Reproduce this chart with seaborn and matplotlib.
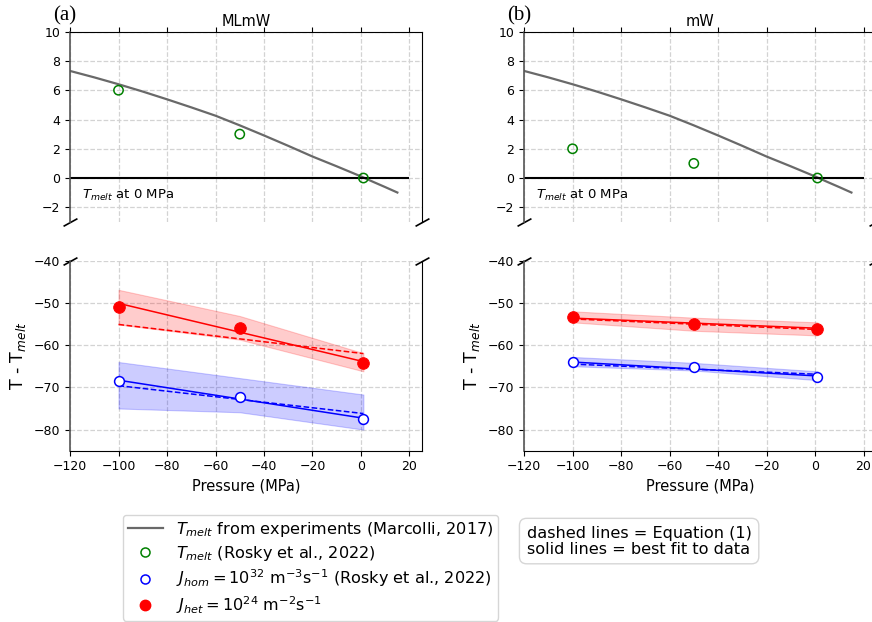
"""Broken-axis comparison of T_melt and nucleation temperatures, MLmW vs mW."""
import matplotlib.pyplot as plt
from matplotlib.lines import Line2D
import seaborn as sns

# pressure of the simulation points (MPa) and the ends of the fit lines
pressure = [-100, -50, 1]
fit_ends = [-100, 1]

# Marcolli (2017) experimental melting curve, relative to 0 MPa
marcolli_p = [-120, -110, -100, -90, -80, -70, -60, -50, -40, -30, -20, -10, 0, 5, 10, 15]
marcolli_t = [7.32, 6.88, 6.41, 5.91, 5.38, 4.83, 4.26, 3.6, 2.91, 2.2, 1.47, 0.8, 0.11, -0.26, -0.62, -0.99]

# MLmW
mlmw_tmelt = [6, 3, 0]
mlmw_hom = [-68.6, -72.3, -77.5]
mlmw_hom_lo = [-75.0, -75.9, -80.0]
mlmw_hom_hi = [-64.0, -67.8, -71.7]
mlmw_hom_fit = [-68.3, -77.3]
mlmw_hom_eq = [-69.6, -76.2]
mlmw_het = [-51.0, -56.0, -64.2]
mlmw_het_lo = [-55.1, -58.7, -66.2]
mlmw_het_hi = [-46.9, -53.1, -61.9]
mlmw_het_fit = [-50.1, -63.9]
mlmw_het_eq = [-55.1, -62.0]

# mW
mw_tmelt = [2, 1, 0]
mw_hom = [-63.9, -65.2, -67.5]
mw_hom_lo = [-65.0, -66.0, -68.3]
mw_hom_hi = [-62.8, -64.2, -66.2]
mw_hom_fit = [-64.0, -67.3]
mw_hom_eq = [-64.5, -66.9]
mw_het = [-53.4, -55.0, -56.2]
mw_het_lo = [-54.6, -56.6, -57.7]
mw_het_hi = [-52.0, -53.5, -54.6]
mw_het_fit = [-53.6, -56.0]
mw_het_eq = [-53.8, -56.3]

xticks = [-120, -100, -80, -60, -40, -20, 0, 20]

panels = [
    dict(x0=0.0803, title='MLmW', tag='(a)', tag_x=0.061, tmelt=mlmw_tmelt,
         hom=mlmw_hom, hom_lo=mlmw_hom_lo, hom_hi=mlmw_hom_hi, hom_fit=mlmw_hom_fit, hom_eq=mlmw_hom_eq,
         het=mlmw_het, het_lo=mlmw_het_lo, het_hi=mlmw_het_hi, het_fit=mlmw_het_fit, het_eq=mlmw_het_eq),
    dict(x0=0.601, title='mW', tag='(b)', tag_x=0.582, tmelt=mw_tmelt,
         hom=mw_hom, hom_lo=mw_hom_lo, hom_hi=mw_hom_hi, hom_fit=mw_hom_fit, hom_eq=mw_hom_eq,
         het=mw_het, het_lo=mw_het_lo, het_hi=mw_het_hi, het_fit=mw_het_fit, het_eq=mw_het_eq),
]

fig = plt.figure(figsize=(8.72, 6.22), dpi=100)
W = 0.4032
grid_kw = dict(ls='--', color='#d3d3d3', lw=0.9)

for p in panels:
    ax_t = fig.add_axes([p['x0'], 0.6432, W, 0.3058])
    ax_b = fig.add_axes([p['x0'], 0.2754, W, 0.3055])

    # --- top: melting temperature ---
    sns.lineplot(x=marcolli_p, y=marcolli_t, color='dimgray', lw=1.6, ax=ax_t)
    ax_t.hlines(0, xticks[0], xticks[-1], color='k', lw=1.5)
    sns.scatterplot(x=pressure, y=p['tmelt'], marker='o', s=45, facecolor='none',
                    edgecolor='green', linewidth=1.1, ax=ax_t, zorder=3)
    ax_t.text(-115, -1.2, r'$T_{melt}$ at 0 MPa', va='center', fontsize=9.5)
    ax_t.set_ylim(-3, 10)
    ax_t.set_yticks(range(-2, 11, 2))
    ax_t.set_title(p['title'], fontsize=10.5, pad=4)

    # --- bottom: nucleation temperatures ---
    for key, col in [('het', 'red'), ('hom', 'blue')]:
        ax_b.fill_between(pressure, p[key + '_lo'], p[key + '_hi'], color=col, alpha=0.2, lw=0.8)
        sns.lineplot(x=fit_ends, y=p[key + '_eq'], color=col, ls='--', lw=1.1, ax=ax_b)
        sns.lineplot(x=fit_ends, y=p[key + '_fit'], color=col, lw=1.1, ax=ax_b)
    sns.scatterplot(x=pressure, y=p['het'], marker='o', s=70, color='red',
                    edgecolor='red', ax=ax_b, zorder=3)
    sns.scatterplot(x=pressure, y=p['hom'], marker='o', s=50, facecolor='white',
                    edgecolor='blue', linewidth=1.1, ax=ax_b, zorder=3)
    ax_b.set_ylim(-85, -40)
    ax_b.set_yticks(range(-80, -39, 10))
    ax_b.set_xlabel('Pressure (MPa)', fontsize=10.5)
    ax_b.set_ylabel(r'T - T$_{melt}$', fontsize=12.5)

    for ax in (ax_t, ax_b):
        ax.set_xlim(-120, 25)
        ax.set_xticks(xticks)
        ax.tick_params(labelsize=9)
        ax.grid(True, **grid_kw)
        ax.set_axisbelow(True)
        ax.spines['left'].set_color('#555555')
        ax.spines['left'].set_linewidth(1.2)

    # broken axis
    ax_t.spines['bottom'].set_visible(False)
    ax_b.spines['top'].set_visible(False)
    ax_t.xaxis.tick_top()
    ax_t.tick_params(labeltop=False)
    ax_b.xaxis.tick_bottom()
    d = 0.55
    kw = dict(marker=[(-1, -d), (1, d)], markersize=10, linestyle='none',
              color='k', mec='k', mew=1.2, clip_on=False)
    ax_t.plot([0, 1], [0, 0], transform=ax_t.transAxes, **kw)
    ax_b.plot([0, 1], [1, 1], transform=ax_b.transAxes, **kw)

    fig.text(p['tag_x'], 0.975, p['tag'], family='Liberation Serif', fontsize=15, va='center')

handles = [
    Line2D([], [], color='dimgray', lw=1.6),
    Line2D([], [], ls='none', marker='o', mfc='none', mec='green', ms=6.5, mew=1.1),
    Line2D([], [], ls='none', marker='o', mfc='none', mec='blue', ms=6.5, mew=1.1),
    Line2D([], [], ls='none', marker='o', color='red', ms=7.5),
]
labels = [
    r'$T_{melt}$ from experiments (Marcolli, 2017)',
    r'$T_{melt}$ (Rosky et al., 2022)',
    r'$J_{hom} = 10^{32}$ m$^{-3}$s$^{-1}$ (Rosky et al., 2022)',
    r'$J_{het} = 10^{24}$ m$^{-2}$s$^{-1}$',
]
fig.legend(handles, labels, loc='upper left', bbox_to_anchor=(0.1407, 0.172),
           fontsize=11.6, borderaxespad=0, handlelength=2.2, labelspacing=0.3,
           borderpad=0.3, handletextpad=0.8)

fig.text(0.604, 0.155, 'dashed lines = Equation (1)\nsolid lines = best fit to data',
         fontsize=11.6, va='top', linespacing=1.08,
         bbox=dict(boxstyle='round,pad=0.45', fc='white', ec='#cccccc', alpha=0.8))

fig.savefig('out.png', dpi=100)
